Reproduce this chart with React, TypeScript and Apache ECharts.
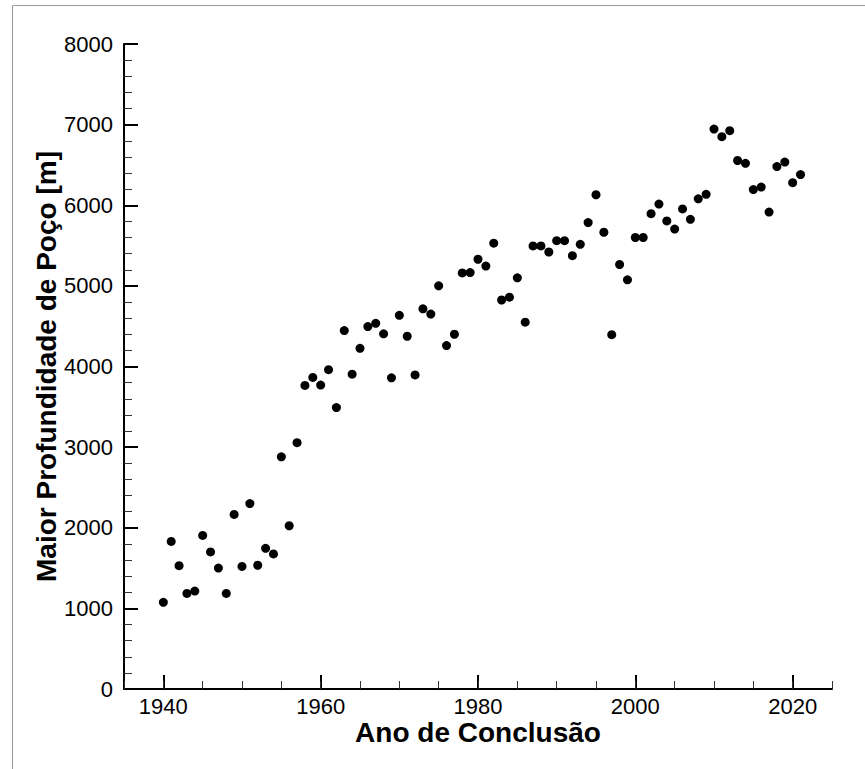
import React, { useEffect, useRef } from 'react';
import * as echarts from 'echarts';

const years = [
  1940, 1941, 1942, 1943, 1944, 1945, 1946, 1947, 1948, 1949,
  1950, 1951, 1952, 1953, 1954, 1955, 1956, 1957, 1958, 1959,
  1960, 1961, 1962, 1963, 1964, 1965, 1966, 1967, 1968, 1969,
  1970, 1971, 1972, 1973, 1974, 1975, 1976, 1977, 1978, 1979,
  1980, 1981, 1982, 1983, 1984, 1985, 1986, 1987, 1988, 1989,
  1990, 1991, 1992, 1993, 1994, 1995, 1996, 1997, 1998, 1999,
  2000, 2001, 2002, 2003, 2004, 2005, 2006, 2007, 2008, 2009,
  2010, 2011, 2012, 2013, 2014, 2015, 2016, 2017, 2018, 2019,
  2020, 2021,
];

const depths = [
  1075, 1830, 1530, 1185, 1215, 1905, 1700, 1500, 1185, 2165,
  1520, 2300, 1535, 1745, 1675, 2880, 2025, 3055, 3765, 3865,
  3770, 3960, 3490, 4445, 3905, 4225, 4495, 4535, 4405, 3860,
  4635, 4375, 3895, 4715, 4650, 5000, 4260, 4400, 5160, 5165,
  5330, 5245, 5530, 4825, 4860, 5100, 4550, 5495, 5495, 5420,
  5560, 5560, 5375, 5515, 5785, 6130, 5665, 4395, 5265, 5075,
  5600, 5600, 5895, 6015, 5805, 5705, 5955, 5825, 6080, 6135,
  6945, 6850, 6925, 6555, 6520, 6195, 6225, 5915, 6480, 6535,
  6280, 6380,
];

const xMajorTicks = [1940, 1960, 1980, 2000, 2020];

const FONT = '"Liberation Sans", Arial, Helvetica, sans-serif';

const plain = (v: number) => String(v);

export default function App() {
  const ref = useRef<HTMLDivElement>(null);

  useEffect(() => {
    document.body.style.margin = '0';
    const chart = echarts.init(ref.current as HTMLDivElement, null, { renderer: 'svg' });
    chart.setOption({
      animation: false,
      backgroundColor: '#ffffff',
      textStyle: { fontFamily: FONT },
      graphic: [
        {
          type: 'rect',
          silent: true,
          z: -10,
          shape: { x: 12.5, y: 5.5, width: 1000, height: 1000 },
          style: { fill: 'none', stroke: '#9a9a9a', lineWidth: 1 },
        },
      ],
      grid: { left: 124, right: 33, top: 44, bottom: 80 },
      xAxis: [
        {
          type: 'value',
          min: 1935,
          max: 2025,
          position: 'bottom',
          axisLine: { show: true, onZero: false, lineStyle: { color: '#000', width: 2 } },
          axisTick: {
            show: true,
            inside: true,
            length: 14,
            customValues: xMajorTicks,
            lineStyle: { color: '#000', width: 2 },
          },
          axisLabel: {
            customValues: xMajorTicks,
            formatter: plain,
            color: '#000',
            fontSize: 22,
            margin: 6,
            fontFamily: FONT,
          },
          splitLine: { show: false },
          name: 'Ano de Conclusão',
          nameLocation: 'middle',
          nameGap: 29,
          nameMoveOverlap: false,
          nameTextStyle: { fontSize: 28, fontWeight: 'bold', color: '#000', fontFamily: FONT },
        },
        {
          type: 'value',
          min: 1935,
          max: 2025,
          interval: 5,
          position: 'bottom',
          axisLine: { show: false, onZero: false },
          axisTick: { show: true, inside: true, length: 8, lineStyle: { color: '#333', width: 1 } },
          axisLabel: { show: false },
          splitLine: { show: false },
        },
      ],
      yAxis: {
        type: 'value',
        min: 0,
        max: 8000,
        interval: 1000,
        axisLine: { show: true, onZero: false, lineStyle: { color: '#000', width: 2 } },
        axisTick: { show: true, inside: true, length: 14, lineStyle: { color: '#000', width: 2 } },
        minorTick: { show: true, splitNumber: 5, length: 8, lineStyle: { color: '#333', width: 1 } },
        axisLabel: { color: '#000', fontSize: 22, margin: 11, fontFamily: FONT, formatter: plain },
        splitLine: { show: false },
        minorSplitLine: { show: false },
        name: 'Maior Profundidade de Poço [m]',
        nameLocation: 'middle',
        nameGap: 64,
        nameMoveOverlap: false,
        nameTextStyle: { fontSize: 28, fontWeight: 'bold', color: '#000', fontFamily: FONT },
      },
      series: [
        {
          type: 'scatter',
          xAxisIndex: 0,
          yAxisIndex: 0,
          data: years.map((y, i) => [y, depths[i]]),
          symbol: 'circle',
          symbolSize: 9,
          itemStyle: { color: '#000', opacity: 1 },
        },
      ],
    });
    return () => chart.dispose();
  }, []);

  return <div ref={ref} style={{ width: 865, height: 769 }} />;
}
